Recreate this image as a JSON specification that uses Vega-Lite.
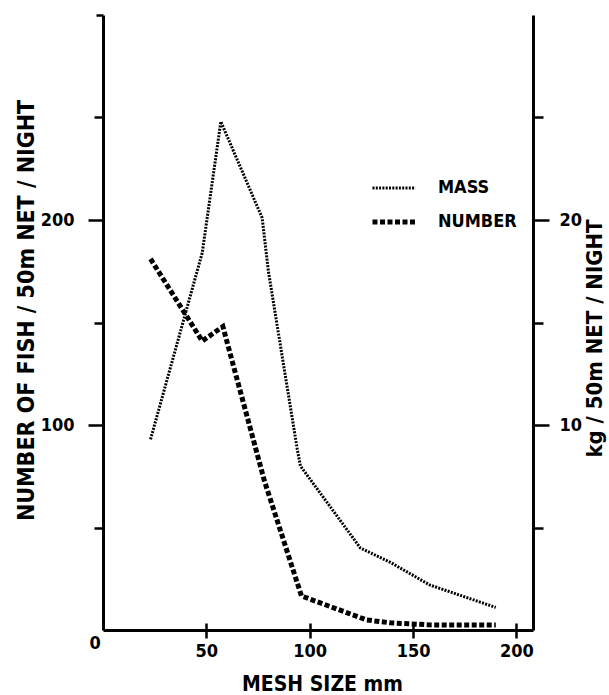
{
  "$schema": "https://vega.github.io/schema/vega-lite/v6.json",
  "width": 430,
  "height": 615,
  "autosize": "none",
  "padding": {"left": 103, "top": 15, "right": 76, "bottom": 65},
  "background": "white",
  "config": {
    "view": {"stroke": null},
    "font": "DejaVu Sans Condensed",
    "axis": {
      "grid": false,
      "domainColor": "black",
      "domainWidth": 3,
      "tickColor": "black",
      "tickWidth": 2.5,
      "labelColor": "black",
      "titleColor": "black",
      "labelFont": "DejaVu Sans Condensed",
      "titleFont": "DejaVu Sans Condensed",
      "labelFontWeight": "bold",
      "titleFontWeight": "bold"
    },
    "legend": {
      "labelFont": "DejaVu Sans Condensed",
      "labelFontWeight": "bold"
    }
  },
  "data": {
    "values": [
      {"series": "NUMBER", "mesh": 23, "value": 181},
      {"series": "NUMBER", "mesh": 48, "value": 141},
      {"series": "NUMBER", "mesh": 58, "value": 148},
      {"series": "NUMBER", "mesh": 78, "value": 73},
      {"series": "NUMBER", "mesh": 96, "value": 16.6},
      {"series": "NUMBER", "mesh": 127.5, "value": 4.9},
      {"series": "NUMBER", "mesh": 139, "value": 3.5},
      {"series": "NUMBER", "mesh": 158, "value": 2.5},
      {"series": "NUMBER", "mesh": 190, "value": 2.4},
      {"series": "MASS", "mesh": 23, "value": 9.3},
      {"series": "MASS", "mesh": 48, "value": 18.4},
      {"series": "MASS", "mesh": 57, "value": 24.8},
      {"series": "MASS", "mesh": 77, "value": 20.1},
      {"series": "MASS", "mesh": 80, "value": 17.5},
      {"series": "MASS", "mesh": 94, "value": 8.8},
      {"series": "MASS", "mesh": 95.5, "value": 8.0},
      {"series": "MASS", "mesh": 124.5, "value": 4.0},
      {"series": "MASS", "mesh": 139, "value": 3.3},
      {"series": "MASS", "mesh": 158, "value": 2.2},
      {"series": "MASS", "mesh": 190, "value": 1.1}
    ]
  },
  "layer": [
    {
      "transform": [{"filter": "datum.series == 'NUMBER'"}],
      "mark": {"type": "line", "color": "black", "strokeCap": "butt"},
      "encoding": {
        "x": {
          "field": "mesh", "type": "quantitative",
          "scale": {"domain": [0, 208], "nice": false, "zero": false},
          "axis": {
            "orient": "bottom",
            "values": [0, 50, 100, 150, 200],
            "tickSize": {"expr": "datum.value == 0 ? 0 : 8"},
            "labelOffset": {"expr": "datum.value == 0 ? -14 : 0"},
            "labelPadding": 4,
            "labelFontSize": 18,
            "title": "MESH SIZE mm",
            "titleFontSize": 21,
            "titleX": 219,
            "titleY": 60,
            "titleAlign": "center",
            "titleBaseline": "alphabetic"
          }
        },
        "y": {
          "field": "value", "type": "quantitative",
          "scale": {"domain": [0, 300], "nice": false},
          "axis": {
            "orient": "left",
            "values": [50, 100, 150, 200, 250, 300],
            "labelExpr": "(datum.value == 100 || datum.value == 200) ? datum.label : ''",
            "tickSize": {"expr": "datum.value == 300 ? 7 : (datum.value % 100 == 0 ? 15 : 9)"},
            "labelPadding": 14,
            "labelFontSize": 18,
            "title": "NUMBER OF FISH / 50m NET / NIGHT",
            "titleFontSize": 23,
            "titleAngle": -90,
            "titleX": -70,
            "titleY": 295,
            "titleAlign": "center",
            "titleBaseline": "alphabetic"
          }
        },
        "strokeDash": {
          "field": "series", "type": "nominal",
          "scale": {"domain": ["MASS", "NUMBER"], "range": [[2, 1.3], [5, 2.5]]},
          "legend": {
            "title": null,
            "orient": "none",
            "legendX": 267,
            "legendY": 150,
            "symbolType": "stroke",
            "symbolSize": 1849,
            "symbolStrokeColor": "black",
            "labelFontSize": 18,
            "labelOffset": 20,
            "labelColor": "black",
            "rowPadding": 1
          }
        },
        "strokeWidth": {
          "field": "series", "type": "nominal",
          "scale": {"domain": ["MASS", "NUMBER"], "range": [3, 5]},
          "legend": {
            "title": null,
            "orient": "none",
            "legendX": 267,
            "legendY": 150,
            "symbolType": "stroke",
            "symbolSize": 1849,
            "symbolStrokeColor": "black",
            "labelFontSize": 18,
            "labelOffset": 20,
            "labelColor": "black",
            "rowPadding": 1
          }
        }
      }
    },
    {
      "transform": [{"filter": "datum.series == 'MASS'"}],
      "mark": {"type": "line", "color": "black", "strokeCap": "butt"},
      "encoding": {
        "x": {
          "field": "mesh", "type": "quantitative",
          "scale": {"domain": [0, 208], "nice": false, "zero": false},
          "axis": {
            "orient": "bottom",
            "values": [50, 100, 150, 200],
            "tickSize": -7,
            "labels": false,
            "domain": false,
            "title": null
          }
        },
        "y": {
          "field": "value", "type": "quantitative",
          "scale": {"domain": [0, 30], "nice": false},
          "axis": {
            "orient": "right",
            "values": [5, 10, 15, 20, 25],
            "labelExpr": "(datum.value == 10 || datum.value == 20) ? datum.label : ''",
            "tickSize": {"expr": "datum.value % 10 == 0 ? 16 : 10"},
            "labelPadding": 10,
            "labelFontSize": 18,
            "title": "kg / 50m NET / NIGHT",
            "titleFontSize": 22,
            "titleAngle": -90,
            "titleX": 68,
            "titleY": 323,
            "titleAlign": "center",
            "titleBaseline": "alphabetic"
          }
        },
        "strokeDash": {"field": "series", "type": "nominal"},
        "strokeWidth": {"field": "series", "type": "nominal"}
      }
    }
  ],
  "resolve": {"scale": {"y": "independent"}, "axis": {"x": "independent", "y": "independent"}}
}
